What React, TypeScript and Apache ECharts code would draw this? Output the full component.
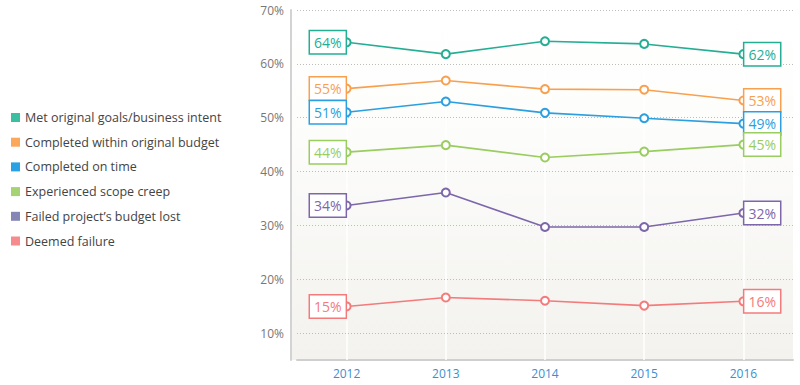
import React, { useEffect, useRef } from "react";
import * as echarts from "echarts";

const years = ["2012", "2013", "2014", "2015", "2016"];
const seriesNames = [
  "Met original goals/business intent",
  "Completed within original budget",
  "Completed on time",
  "Experienced scope creep",
  "Failed project’s budget lost",
  "Deemed failure",
];
const metGoals = [64.0, 61.8, 64.2, 63.7, 61.8];
const withinBudget = [55.4, 56.9, 55.3, 55.2, 53.2];
const onTime = [51.0, 53.0, 50.9, 49.9, 48.9];
const scopeCreep = [43.6, 44.9, 42.6, 43.7, 45.0];
const budgetLost = [33.7, 36.1, 29.7, 29.7, 32.3];
const deemedFailure = [14.95, 16.6, 16.0, 15.1, 15.9];
const yTicks = [10, 20, 30, 40, 50, 60, 70];

const lineColors = ["#25ae94", "#f9a04f", "#2b9fe0", "#9acd5f", "#7d66aa", "#f47b7b"];
const legendColors = ["#3bbfa0", "#fba85a", "#2aa1e5", "#a6d174", "#8686b6", "#f68b8d"];
const allValues = [metGoals, withinBudget, onTime, scopeCreep, budgetLost, deemedFailure];

export default function App() {
  const ref = useRef<HTMLDivElement>(null);
  useEffect(() => {
    if (!ref.current) return;
    const chart = echarts.init(ref.current, undefined, { renderer: "svg" });
    const boxLabel = (color: string, side: "left" | "right") => ({
      show: true,
      position: side,
      distance: -4,
      formatter: (p: any) => Math.round(p.value) + "%",
      color,
      fontSize: 14,
      fontFamily: "Open Sans",
      backgroundColor: "#ffffff",
      borderColor: color,
      borderWidth: 1.5,
      padding: [2, 4, 2, 4],
      lineHeight: 18,
    });
    const series: any[] = allValues.map((vals, si) => ({
      name: seriesNames[si],
      type: "line",
      symbol: "emptyCircle",
      symbolSize: 8,
      lineStyle: { color: lineColors[si], width: 1.6 },
      itemStyle: { color: lineColors[si], borderWidth: 1.6 },
      data: vals.map((v, i) => {
        if (i === 0) return { value: v, label: boxLabel(lineColors[si], "left") };
        if (i === vals.length - 1) return { value: v, label: boxLabel(lineColors[si], "right") };
        return { value: v };
      }),
      label: { show: false },
      z: 3,
    }));
    series[0].markLine = {
      silent: true,
      symbol: "none",
      label: { show: false },
      lineStyle: { color: "#ffffff", width: 1.5, type: "solid" },
      data: years.map((y) => ({ xAxis: y })),
      z: 1,
    };
    chart.setOption({
      animation: false,
      textStyle: { fontFamily: "Open Sans" },
      graphic: [
        {
          type: "rect",
          z: -10,
          shape: { x: 291, y: 10, width: 502, height: 350 },
          style: {
            fill: new echarts.graphic.LinearGradient(0, 0, 0, 1, [
              { offset: 0, color: "#ffffff" },
              { offset: 0.3, color: "#fdfdfc" },
              { offset: 1, color: "#f3f2ee" },
            ]),
          },
          silent: true,
        },
      ],
      legend: {
        orient: "vertical",
        left: 6,
        top: 105,
        icon: "rect",
        itemWidth: 9,
        itemHeight: 9,
        itemGap: 9.7,
        textStyle: {
          fontSize: 12.5,
          color: "#444",
          fontFamily: "Open Sans",
          lineHeight: 15,
        },
        data: seriesNames.map((n, i) => ({ name: n, itemStyle: { color: legendColors[i] } })),
        selectedMode: false,
      },
      grid: { left: 297, right: 7, top: 10, bottom: 25, containLabel: false },
      xAxis: {
        type: "category",
        data: years,
        boundaryGap: true,
        axisLine: { show: true, lineStyle: { color: "#cfcfcf", width: 2 } },
        axisTick: { show: false },
        axisLabel: { color: "#3a8fd0", fontSize: 12, margin: 7 },
        splitLine: { show: false },
      },
      yAxis: {
        type: "value",
        min: 5,
        max: 70,
        interval: 5,
        offset: 6,
        axisLine: { show: true, lineStyle: { color: "#d3d3d3", width: 2 } },
        axisTick: { show: false },
        axisLabel: {
          color: "#777",
          fontSize: 12,
          margin: 7,
          formatter: (v: number) => (yTicks.includes(v) ? v + "%" : ""),
        },
        splitLine: {
          show: true,
          lineStyle: { color: ["rgba(0,0,0,0)", "#bdbdbd"], type: [1, 2], width: 1 },
        },
      },
      series,
    });
    return () => chart.dispose();
  }, []);
  return <div ref={ref} style={{ width: 800, height: 385, position: "absolute", left: 0, top: 0 }} />;
}
